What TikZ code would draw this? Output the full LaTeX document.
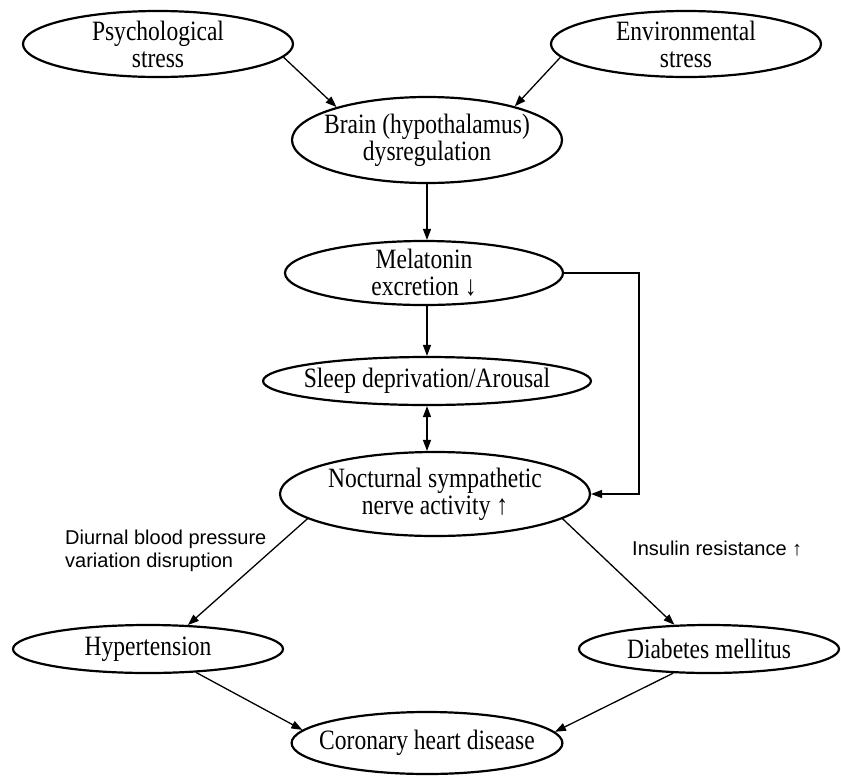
\documentclass[tikz,border=0pt]{standalone}
\usepackage{fontspec}
\setmainfont{Liberation Serif}[FakeStretch=0.84]
\newfontfamily\labsans{Liberation Sans}
\usetikzlibrary{shapes.geometric,arrows.meta}
\tikzset{
  ell/.style={draw, line width=2.2pt, ellipse, inner sep=-12pt, align=center,
    font=\fontsize{28}{27}\selectfont},
  arr/.style={-{Triangle[length=11pt,width=8pt]}, line width=1.3pt},
  dblarr/.style={{Triangle[length=11pt,width=8pt]}-{Triangle[length=11pt,width=8pt]}, line width=1.3pt},
  lab/.style={inner sep=0pt, align=left, font=\labsans\fontsize{20}{23}\selectfont}
}
\begin{document}
\begin{tikzpicture}[x=1pt,y=-1pt]
\useasboundingbox (0,0) rectangle (841,777);
\node[ell, minimum width=270pt, minimum height=66pt] (psych) at (158,44) {Psychological\\stress};
\node[ell, minimum width=270pt, minimum height=66pt] (env) at (686,44) {Environmental\\stress};
\node[ell, minimum width=270pt, minimum height=86pt] (brain) at (427,140) {Brain (hypothalamus)\\dysregulation};
\node[ell, minimum width=278pt, minimum height=64pt] (mel) at (424,273) {Melatonin\\excretion ↓};
\node[ell, minimum width=328pt, minimum height=48pt] (sleep) at (427,381) {Sleep deprivation/Arousal};
\node[ell, minimum width=310pt, minimum height=84pt] (noct) at (435,494) {Nocturnal sympathetic\\nerve activity ↑};
\node[ell, minimum width=270pt, minimum height=48pt] (hyper) at (148,649) {Hypertension};
\node[ell, minimum width=260pt, minimum height=48pt] (diab) at (709,649) {Diabetes mellitus};
\node[ell, minimum width=270pt, minimum height=62pt] (cor) at (427,743) {Coronary heart disease};

\node[lab, anchor=west] (l1) at (65,551) {Diurnal blood pressure\\variation disruption};
\node[lab, anchor=base west] (l2) at (632,555) {Insulin resistance ↑};

\draw[arr] (psych.-6) -- (brain.160);
\draw[arr] (env.186.8) -- (brain.21.7);
\draw[arr] (brain.south) -- (brain.south |- mel.north);
\draw[arr] (mel.south -| brain.south) -- (sleep.north);
\draw[dblarr] (sleep.south) -- (noct.north -| sleep.south);
\draw[arr] (mel.east) -- ++(75,0) |- (noct.east);
\draw[arr] (noct.191) -- (hyper.31);
\draw[arr] (noct.-11) -- (diab.145);
\draw[arr] (hyper.-26) -- (cor.174);
\draw[arr] (diab.214) -- (cor.5.4);
\end{tikzpicture}
\end{document}
